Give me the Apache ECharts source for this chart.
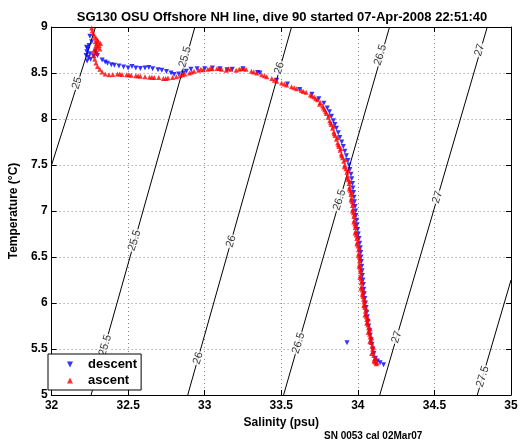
<!DOCTYPE html>
<html><head><meta charset="utf-8">
<script src="https://cdn.jsdelivr.net/npm/echarts@6/dist/echarts.min.js"></script>
<style>html,body{margin:0;padding:0;background:#fff}#c{width:522px;height:442px}</style>
</head><body><div id="c"></div>
<script>
// Axis ticks
const xTicks = [32, 32.5, 33, 33.5, 34, 34.5, 35];
const yTicks = [5, 5.5, 6, 6.5, 7, 7.5, 8, 8.5, 9];

// Isopycnal (sigma-theta) contour lines, [salinity, temperature] end points
const sigmaLevels = ['25', '25.5', '26', '26.5', '27', '27.5'];
const sigmaLines = [
  [[32.000, 7.50], [32.287, 9.00]],
  [[32.258, 5.00], [32.936, 9.00]],
  [[32.889, 5.00], [33.567, 9.00]],
  [[33.515, 5.00], [34.207, 9.00]],
  [[34.143, 5.00], [34.845, 9.00]],
  [[34.780, 5.00], [35.000, 6.25]]
];
// Contour label placements [S, T, text]
const sigmaLabels = [
  [32.167, 8.39, '25'],
  [32.872, 8.674, '25.5'], [32.542, 6.68, '25.5'], [32.350, 5.54, '25.5'],
  [33.487, 8.554, '26'], [33.172, 6.67, '26'], [32.957, 5.40, '26'],
  [34.147, 8.696, '26.5'], [33.880, 7.12, '26.5'], [33.613, 5.565, '26.5'],
  [34.795, 8.75, '27'], [34.520, 7.15, '27'], [34.254, 5.63, '27'],
  [34.815, 5.20, '27.5']
];

// Descent profile [salinity, temperature]
const descent = [
  [32.245,8.80],[32.238,8.76],[32.230,8.73],[32.250,8.71],[32.225,8.69],[32.240,8.67],[32.255,8.65],[32.232,8.63],
  [32.285,8.74],[32.292,8.71],[32.300,8.69],[32.228,8.78],[32.262,8.84],[32.250,8.90],[32.275,8.68],
  [32.330,8.64],[32.350,8.62],[32.365,8.605],[32.390,8.59],[32.410,8.585],[32.440,8.575],[32.470,8.565],[32.500,8.555],
  [32.525,8.57],[32.550,8.555],[32.580,8.55],[32.610,8.555],[32.635,8.56],[32.660,8.545],[32.695,8.535],[32.720,8.53],
  [32.750,8.515],[32.780,8.50],[32.800,8.485],[32.830,8.49],[32.860,8.50],[32.880,8.52],[32.910,8.54],[32.950,8.545],
  [33.000,8.545],[33.050,8.555],[33.100,8.545],[33.145,8.535],[33.180,8.54],[33.250,8.545],[33.345,8.505],[33.360,8.50],
  [33.470,8.42],[33.540,8.38],
  [33.620,8.32],[33.700,8.27],[33.745,8.22],[33.778,8.17],[33.800,8.12],[33.815,8.08],[33.828,8.03],[33.840,7.98],
  [33.850,7.94],[33.860,7.90],[33.872,7.85],[33.882,7.80],[33.895,7.75],[33.905,7.70],[33.915,7.65],[33.925,7.60],
  [33.935,7.55],[33.942,7.50],[33.948,7.45],[33.955,7.40],[33.960,7.35],[33.965,7.30],[33.968,7.25],[33.972,7.20],
  [33.975,7.15],[33.978,7.10],[33.982,7.05],[33.985,7.00],[33.988,6.95],[33.992,6.90],[33.995,6.85],[33.999,6.80],
  [34.003,6.75],[34.008,6.70],[34.012,6.65],[34.016,6.60],[34.019,6.55],[34.021,6.50],[34.023,6.45],[34.026,6.40],
  [34.028,6.35],[34.030,6.30],[34.033,6.25],[34.036,6.20],[34.039,6.15],[34.042,6.10],[34.046,6.05],[34.050,6.00],
  [34.054,5.95],[34.058,5.90],[34.062,5.85],[34.066,5.80],[34.071,5.75],[34.076,5.70],[34.081,5.65],[34.087,5.60],
  [34.092,5.55],[34.098,5.50],[34.105,5.45],[34.115,5.40],[34.128,5.37],[34.145,5.35],[34.168,5.33],
  [33.929,5.569]
];

// Ascent profile [salinity, temperature]
const ascent = [
  [34.120,5.34],[34.112,5.36],[34.125,5.35],[34.108,5.39],[34.104,5.43],[34.099,5.47],[34.096,5.50],[34.092,5.53],
  [34.088,5.57],[34.084,5.60],[34.080,5.63],[34.077,5.66],[34.073,5.70],[34.070,5.73],[34.066,5.76],[34.062,5.79],
  [34.059,5.82],[34.055,5.85],[34.052,5.88],[34.049,5.91],[34.046,5.95],[34.043,5.98],[34.040,6.01],[34.037,6.04],
  [34.034,6.07],[34.031,6.11],[34.028,6.14],[34.025,6.18],[34.022,6.22],[34.020,6.26],[34.018,6.30],[34.016,6.34],
  [34.014,6.38],[34.012,6.42],[34.011,6.46],[34.009,6.50],[34.007,6.54],[34.004,6.58],[34.001,6.62],[33.997,6.66],
  [33.993,6.70],[33.989,6.74],[33.986,6.78],[33.983,6.82],[33.980,6.86],[33.977,6.90],[33.974,6.94],[33.971,6.98],
  [33.968,7.02],[33.965,7.06],[33.962,7.10],[33.959,7.14],[33.955,7.18],[33.951,7.22],[33.947,7.26],[33.943,7.30],
  [33.938,7.34],[33.933,7.38],[33.928,7.42],[33.922,7.46],[33.915,7.50],[33.908,7.54],[33.900,7.58],[33.892,7.62],
  [33.884,7.66],[33.876,7.70],[33.868,7.74],[33.860,7.78],[33.851,7.82],[33.843,7.86],[33.835,7.90],[33.826,7.94],
  [33.816,7.98],[33.806,8.02],[33.795,8.06],[33.783,8.10],[33.770,8.14],[33.755,8.18],[33.737,8.21],[33.715,8.24],
  [33.690,8.26],[33.662,8.29],[33.632,8.31],[33.600,8.33],[33.567,8.35],[33.535,8.37],[33.502,8.39],[33.470,8.41],
  [33.438,8.44],[33.405,8.46],[33.372,8.48],[33.340,8.50],[33.305,8.52],[33.270,8.54],[33.240,8.55],[33.205,8.53],
  [33.170,8.54],[33.140,8.53],[33.110,8.54],[33.080,8.55],[33.050,8.545],[33.020,8.54],[32.990,8.535],[32.960,8.53],
  [32.930,8.52],[32.900,8.50],[32.870,8.49],[32.840,8.47],[32.815,8.46],[32.790,8.45],[32.760,8.445],[32.730,8.44],
  [32.700,8.45],[32.670,8.45],[32.640,8.455],[32.610,8.46],[32.580,8.465],[32.550,8.47],[32.520,8.475],[32.490,8.48],
  [32.460,8.485],[32.430,8.49],[32.400,8.485],[32.375,8.48],[32.350,8.49],[32.330,8.51],[32.315,8.54],[32.300,8.57],
  [32.290,8.61],[32.282,8.65],[32.276,8.69],[32.272,8.73],[32.285,8.76],[32.300,8.78],[32.310,8.80],[32.295,8.82],
  [32.285,8.84],[32.300,8.86],[32.290,8.88],[32.280,8.90],[32.272,8.93],[32.266,8.96],[32.262,8.99],
  [34.105,5.37],[34.118,5.40],[34.090,5.45],[34.102,5.52],[34.078,5.58],[34.090,5.62],[34.068,5.68],[34.080,5.72],
  [34.058,5.78],[34.068,5.83],[34.047,5.87],[34.057,5.93],[34.038,5.97],[34.046,6.03],[34.029,6.09],[34.038,6.13],
  [34.020,6.16],[34.027,6.24],[34.013,6.28],[34.021,6.36],[34.008,6.40],[34.015,6.48],[34.003,6.52],[34.010,6.60],
  [33.993,6.64],[33.998,6.72],[33.982,6.76],[33.986,6.84],[33.973,6.88],[33.978,6.96],[33.964,7.00],[33.970,7.08],
  [33.955,7.12],[33.958,7.20],[33.944,7.24],[33.948,7.32],[33.930,7.36],[33.936,7.44],[33.912,7.48],[33.918,7.56],
  [33.895,7.60],[33.888,7.68],[33.873,7.72],[33.866,7.80],[33.846,7.84],[33.840,7.92],[33.822,7.96],[33.812,8.04],
  [33.790,8.08],[33.776,8.12],[33.750,8.16],[33.725,8.22],[33.700,8.25],[33.645,8.30],[33.585,8.34],[33.520,8.38],
  [33.455,8.42],[33.390,8.47],[33.320,8.51],[33.255,8.545],[33.225,8.54],[33.155,8.545],[33.095,8.55],[33.035,8.55],
  [32.975,8.54],[32.915,8.51],[32.855,8.48],[32.745,8.44],[32.655,8.455],[32.565,8.47],[32.505,8.48],[32.445,8.49],
  [32.290,8.80],[32.305,8.84],[32.315,8.76],[32.295,8.72],[32.320,8.82]
];

const FONT = 'Liberation Sans, Arial, Helvetica, sans-serif';
const chart = echarts.init(document.getElementById('c'), null, {renderer: 'canvas'});

const axisCommon = {
  type: 'value',
  axisLine: {show: true, lineStyle: {color: '#000', width: 1}},
  axisTick: {show: true, inside: true, length: 5, lineStyle: {color: '#000'}},
};

const series = [];
sigmaLines.forEach((pts, i) => {
  series.push({
    name: 'sigma' + sigmaLevels[i], type: 'line', data: pts, showSymbol: false, symbol: 'none',
    lineStyle: {color: '#000', width: 1}, silent: true, z: 1, clip: true
  });
});
series.push({
  name: 'sigmaLabels', type: 'scatter', data: sigmaLabels, symbolSize: 1, silent: true, z: 2,
  itemStyle: {color: 'rgba(0,0,0,0)'},
  label: {show: true, position: 'inside', rotate: 73, formatter: p => p.data[2],
    fontSize: 11, fontFamily: FONT, color: '#000', backgroundColor: '#fff', padding: [0, 1]}
});
series.push({
  name: 'descent', type: 'scatter', data: descent, symbol: 'triangle', symbolRotate: 180, symbolSize: 5,
  itemStyle: {color: '#0000ff'}, silent: true, z: 3
});
series.push({
  name: 'ascent', type: 'scatter', data: ascent, symbol: 'triangle', symbolSize: 5,
  itemStyle: {color: '#ff0000'}, silent: true, z: 4
});

chart.setOption({
  animation: false,
  backgroundColor: '#fff',
  title: {
    text: 'SG130 OSU Offshore NH line, dive 90 started 07-Apr-2008 22:51:40',
    left: 277, top: 6, textAlign: 'center',
    textStyle: {fontSize: 13, fontWeight: 'bold', fontFamily: FONT, color: '#000'}
  },
  grid: {left: 43, right: 11, top: 27, bottom: 47, containLabel: false},
  legend: {
    left: 48, top: 354, orient: 'vertical',
    backgroundColor: '#fff', borderColor: '#000', borderWidth: 1, borderRadius: 0,
    padding: [4, 4, 3, 19], itemWidth: 6, itemHeight: 6, itemGap: 3,
    textStyle: {fontSize: 13, fontWeight: 'bold', fontFamily: FONT, color: '#000', padding: [0, 0, 0, 10]},
    data: [
      {name: 'descent', icon: 'path://M0,0 L10,0 L5,10 Z', itemStyle: {color: '#0000ff'}},
      {name: 'ascent', icon: 'triangle', itemStyle: {color: '#ff0000'}}
    ]
  },
  xAxis: [
    Object.assign({}, axisCommon, {
      min: xTicks[0], max: xTicks[xTicks.length - 1], interval: 0.5, position: 'bottom',
      axisLabel: {color: '#000', fontSize: 12, fontWeight: 'bold', fontFamily: FONT, margin: 5},
      splitLine: {show: true, lineStyle: {color: '#888', width: 1, type: [1, 3]}},
      name: 'Salinity (psu)', nameLocation: 'middle', nameGap: 19,
      nameTextStyle: {fontSize: 12, fontWeight: 'bold', fontFamily: FONT, color: '#000'}
    }),
    Object.assign({}, axisCommon, {
      min: xTicks[0], max: xTicks[xTicks.length - 1], interval: 0.5, position: 'top',
      axisLabel: {show: false}, splitLine: {show: false}
    })
  ],
  yAxis: [
    Object.assign({}, axisCommon, {
      min: yTicks[0], max: yTicks[yTicks.length - 1], interval: 0.5, position: 'left',
      axisLabel: {color: '#000', fontSize: 12, fontWeight: 'bold', fontFamily: FONT, margin: 4},
      splitLine: {show: true, lineStyle: {color: '#888', width: 1, type: [1, 3]}},
      name: 'Temperature (°C)', nameLocation: 'middle', nameGap: 26, nameRotate: 90,
      nameTextStyle: {fontSize: 12, fontWeight: 'bold', fontFamily: FONT, color: '#000'}
    }),
    Object.assign({}, axisCommon, {
      min: yTicks[0], max: yTicks[yTicks.length - 1], interval: 0.5, position: 'right',
      axisLabel: {show: false}, splitLine: {show: false}
    })
  ],
  graphic: [{
    type: 'text', left: 324, top: 431, silent: true,
    style: {text: 'SN 0053 cal 02Mar07', font: 'bold 10px ' + FONT, fill: '#000'}
  }],
  series: series
});
</script></body></html>
